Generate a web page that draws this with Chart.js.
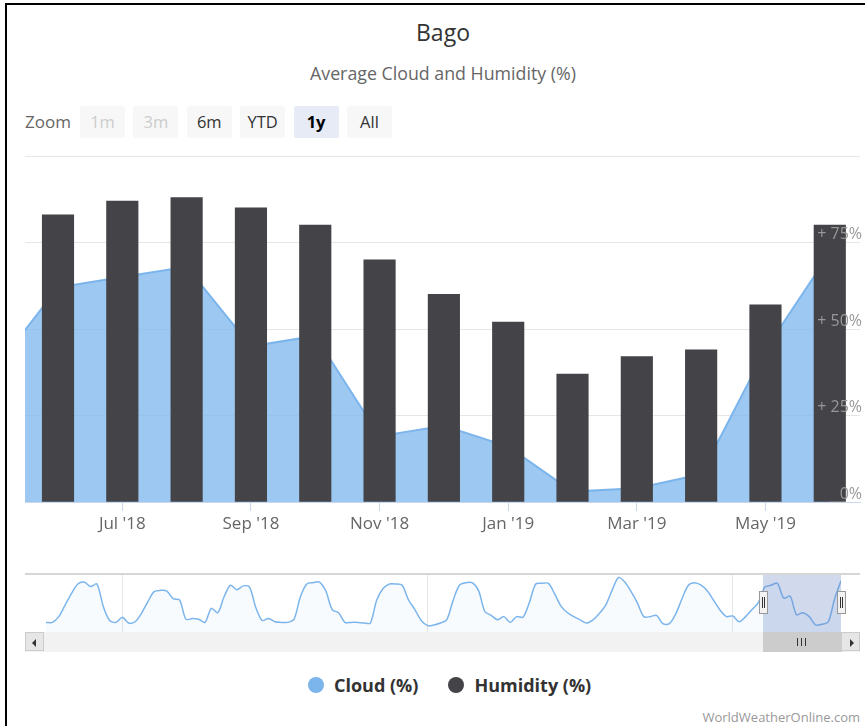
<!DOCTYPE html>
<html>
<head>
<meta charset="utf-8">
<title>Bago - Average Cloud and Humidity (%)</title>
<script src="https://cdn.jsdelivr.net/npm/chart.js@4.4.1/dist/chart.umd.min.js"></script>
<style>
  html, body { margin: 0; background: #fff; overflow: hidden; font-family: "Open Sans", sans-serif; }
  #page { position: relative; width: 865px; height: 726px; overflow: hidden; background: #fff; }
  .frame { position: absolute; left: 5px; top: 3px; width: 2px; height: 723px; background: #000; }
  .frameTop { position: absolute; left: 5px; top: 3px; width: 860px; height: 2px; background: #000; }
  #title { position: absolute; left: 0; width: 886px; top: 17px; line-height: 30px; text-align: center; font-size: 23px; color: #333; }
  #subtitle { position: absolute; left: 0; width: 886px; top: 62px; line-height: 22px; text-align: center; font-size: 17.8px; color: #666; }
  #zoomLabel { position: absolute; left: 25px; top: 110px; line-height: 24px; font-size: 17px; color: #666; }
  .btn { position: absolute; top: 106px; width: 45px; height: 32px; line-height: 32px; text-align: center;
         font-size: 16.5px; background: #f7f7f7; color: #333; border-radius: 2px; }
  .btn.off { color: #cccccc; }
  .btn.on { background: #e6ebf5; color: #000; font-weight: bold; }
  #mainChart { position: absolute; left: 0; top: 140px; }
  #navOutline { position: absolute; left: 25px; top: 573px; width: 835px; height: 2px; background: #d6d6d6; }
  #navChart { position: absolute; left: 46px; top: 575px; }
  #navMask { position: absolute; left: 763px; top: 575px; width: 78px; height: 57px; background: rgba(102, 133, 194, 0.3); }
  .handle { position: absolute; top: 591px; width: 7px; height: 21px; background: #f2f2f2; border: 1px solid #999; }
  .handle::before, .handle::after { content: ""; position: absolute; top: 5px; width: 1px; height: 11px; background: #333; }
  .handle::before { left: 2px; }
  .handle::after { left: 4px; }
  #scrollTrack { position: absolute; left: 25px; top: 632px; width: 835px; height: 20px; background: #f2f2f2; }
  .sbtn { position: absolute; top: 0; width: 19px; height: 19px; background: #e6e6e6; border: 1px solid #cccccc; box-sizing: border-box; }
  .sbtn::after { content: ""; position: absolute; top: 6px; border-top: 4px solid transparent; border-bottom: 4px solid transparent; }
  .sbtn.left::after { left: 6px; border-right: 4px solid #333; }
  .sbtn.right::after { left: 8px; border-left: 4px solid #333; }
  #thumb { position: absolute; left: 738px; top: 0; width: 79px; height: 20px; background: #cccccc; }
  #thumb span { position: absolute; top: 6px; width: 1px; height: 8px; background: #333; }
  #legend { position: absolute; left: 308px; top: 673px; height: 24px; display: flex; align-items: center; }
  .item { display: flex; align-items: center; margin-right: 30px; font-size: 18px; font-weight: bold; color: #333; }
  .dot { width: 16px; height: 16px; border-radius: 50%; margin-right: 10px; }
  #credit { position: absolute; right: 5px; top: 707px; line-height: 20px; font-size: 13px; color: #999; }
</style>
</head>
<body>
<div id="page">
  <div class="frame"></div>
  <div class="frameTop"></div>
  <div id="title">Bago</div>
  <div id="subtitle">Average Cloud and Humidity (%)</div>
  <div id="zoomLabel">Zoom</div>
  <div id="zoomButtons"></div>
  <canvas id="mainChart" width="865" height="420"></canvas>
  <div id="navOutline"></div>
  <canvas id="navChart" width="795" height="57"></canvas>
  <div id="navMask"></div>
  <div class="handle" style="left: 759px"></div>
  <div class="handle" style="left: 837px"></div>
  <div id="scrollTrack">
    <div class="sbtn left" style="left: 0"></div>
    <div id="thumb"><span style="left: 34px"></span><span style="left: 38px"></span><span style="left: 42px"></span></div>
    <div class="sbtn right" style="left: 816px"></div>
  </div>
  <div id="legend"></div>
  <div id="credit">WorldWeatherOnline.com</div>
</div>

<script>
// Monthly averages, Bago (May '18 is only partly in view at the left edge)
const months = ["May '18", "Jun '18", "Jul '18", "Aug '18", "Sep '18", "Oct '18", "Nov '18",
                "Dec '18", "Jan '19", "Feb '19", "Mar '19", "Apr '19", "May '19", "Jun '19"];
const cloud = [38, 62, 65, 68, 45, 48, 19, 22, 16, 3, 4, 8, 44, 72];
const humidity = [null, 83, 87, 88, 85, 80, 70, 60, 52, 37, 42, 44, 57, 80];
const tickLabels = ["Jul '18", "Sep '18", "Nov '18", "Jan '19", "Mar '19", "May '19"];
const yTicks = [0, 25, 50, 75, 100];

// Navigator: monthly cloud from Jan 2009 to Apr 2018, the months above follow on
const historyStart = 2009;
const cloudHistory = [
    7, 7, 16, 34, 52, 67, 70, 63, 67, 32, 10, 7,
    15, 6, 8, 21, 39, 55, 57, 56, 44, 42, 12, 13,
    12, 7, 29, 22, 47, 65, 58, 64, 62, 30, 10, 13,
    8, 7, 7, 12, 47, 67, 69, 70, 56, 27, 22, 7,
    7, 7, 6, 6, 42, 60, 67, 67, 65, 42, 27, 10,
    2, 3, 6, 11, 41, 65, 69, 69, 57, 24, 18, 11,
    16, 7, 16, 15, 38, 67, 68, 68, 51, 32, 22, 16,
    11, 6, 11, 21, 34, 57, 77, 70, 55, 37, 16, 16,
    18, 5, 5, 20, 44, 65, 69, 65, 56, 41, 26, 16,
    17, 8, 16, 27
];
const navYears = [2010, 2014, 2018];

const zoomButtons = ['1m', '3m', '6m', 'YTD', '1y', 'All'];

Chart.defaults.font.family = '"Open Sans", sans-serif';

function fillZoomButtons() {
    let bar = document.getElementById('zoomButtons');
    zoomButtons.forEach((name, i) => {
        let cls = 'btn';
        if (name === '1m' || name === '3m') cls += ' off';
        if (name === '1y') cls += ' on';
        bar.insertAdjacentHTML('beforeend',
            `<div class="${cls}" style="left:${80 + i * 53.4}px">${name}</div>`);
    });
}

function fillMainChart() {
    let canvas = document.getElementById('mainChart').getContext('2d');
    return new Chart(canvas, {
        type: 'line',
        data: {
            datasets: [{
                label: 'Cloud (%)',
                data: cloud.map((v, i) => ({x: i, y: v})),
                borderColor: '#7cb5ec',
                backgroundColor: 'rgba(124, 181, 236, 0.75)',
                borderWidth: 2,
                fill: 'origin',
                pointRadius: 0,
                tension: 0,
                order: 2
            }, {
                type: 'bar',
                label: 'Humidity (%)',
                data: humidity.map((v, i) => ({x: i, y: v})),
                backgroundColor: '#434348',
                barThickness: 31.5,
                order: 1
            }]
        },
        options: {
            responsive: false,
            animation: false,
            layout: {padding: {left: 25, right: 5, top: 16, bottom: 18}},
            plugins: {legend: {display: false}, tooltip: {enabled: false}},
            scales: {
                x: {
                    type: 'linear',
                    offset: false,
                    min: 0.487,
                    max: 13.47,
                    afterFit: s => { s.height = 40; },
                    afterBuildTicks: s => { s.ticks = tickLabels.map(l => ({value: months.indexOf(l)})); },
                    grid: {offset: false, drawOnChartArea: false, tickLength: 9, color: '#ccd6eb'},
                    border: {color: '#ccd6eb'},
                    ticks: {
                        callback: v => months[v],
                        color: '#666666',
                        font: {size: 17},
                        padding: 3,
                        maxRotation: 0,
                        autoSkip: false
                    }
                },
                y: {
                    position: 'right',
                    min: 0,
                    max: 100,
                    afterFit: s => { s.width = 0; },
                    afterBuildTicks: s => { s.ticks = yTicks.map(v => ({value: v})); },
                    grid: {color: '#e6e6e6', drawTicks: false},
                    border: {display: false},
                    ticks: {
                        mirror: true,
                        padding: 2,
                        labelOffset: -8,
                        z: 1,
                        color: '#999999',
                        font: {size: 16},
                        callback: v => v === 100 ? '' : (v > 0 ? '+ ' + v + '%' : v + '%')
                    }
                }
            }
        }
    });
}

function fillNavigator() {
    let navData = cloudHistory.concat(cloud);
    let canvas = document.getElementById('navChart').getContext('2d');
    return new Chart(canvas, {
        type: 'line',
        data: {
            datasets: [{
                data: navData.map((v, i) => ({x: i, y: v})),
                borderColor: '#7cb5ec',
                backgroundColor: 'rgba(124, 181, 236, 0.06)',
                borderWidth: 1.5,
                fill: 'start',
                pointRadius: 0,
                tension: 0.3
            }]
        },
        options: {
            responsive: false,
            animation: false,
            layout: {padding: 0},
            plugins: {legend: {display: false}, tooltip: {enabled: false}},
            scales: {
                x: {
                    type: 'linear',
                    min: 0,
                    max: navData.length - 1,
                    afterFit: s => { s.height = 0; },
                    afterBuildTicks: s => { s.ticks = navYears.map(y => ({value: (y - historyStart) * 12})); },
                    grid: {color: '#e6e6e6', drawTicks: false},
                    border: {display: false},
                    ticks: {
                        align: 'start',
                        labelOffset: 4,
                        padding: -22,
                        color: '#999999',
                        font: {size: 15},
                        maxRotation: 0,
                        autoSkip: false,
                        callback: v => historyStart + v / 12
                    }
                },
                y: {display: false, min: -8, max: 81}
            }
        }
    });
}

function fillLegend(chart) {
    let legend = document.getElementById('legend');
    chart.data.datasets.forEach(ds => {
        legend.insertAdjacentHTML('beforeend',
            `<div class="item"><span class="dot" style="background:${ds.borderColor || ds.backgroundColor}"></span>${ds.label}</div>`);
    });
}

fillZoomButtons();
let mainChart = fillMainChart();
fillNavigator();
fillLegend(mainChart);
</script>
</body>
</html>
